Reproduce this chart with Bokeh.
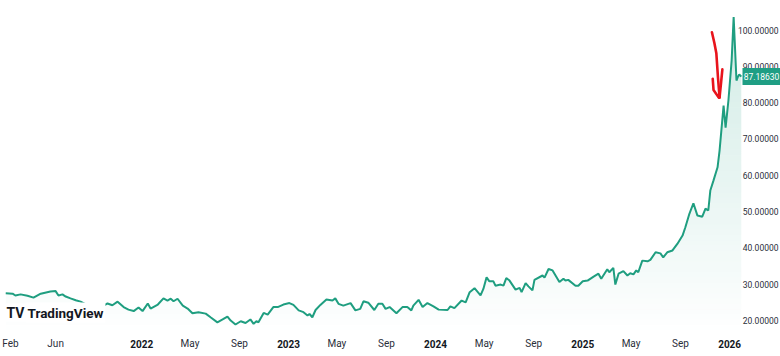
import numpy as np
import pandas as pd
from bokeh.plotting import figure
from bokeh.models import Range1d, Label
from bokeh.core.properties import value
from bokeh.embed import file_html
from bokeh.resources import INLINE

# ---------------- data ----------------
DATES = [
    "2021-01-28", "2021-02-14", "2021-02-21", "2021-03-06", "2021-03-23", "2021-04-07", "2021-04-25",
    "2021-05-19", "2021-06-01", "2021-06-08", "2021-06-18", "2021-06-26", "2021-07-08", "2021-07-21",
    "2021-08-02", "2021-08-14", "2021-08-27", "2021-09-08", "2021-09-21", "2021-10-08", "2021-10-20",
    "2021-11-02", "2021-11-17", "2021-11-29", "2021-12-12", "2021-12-24",
    "2022-01-03", "2022-01-16", "2022-01-23", "2022-02-10", "2022-02-24", "2022-03-06", "2022-03-14",
    "2022-03-21", "2022-03-31", "2022-04-13", "2022-04-25", "2022-05-07", "2022-05-22", "2022-06-09",
    "2022-06-21", "2022-07-08", "2022-07-21", "2022-08-02", "2022-08-10", "2022-08-22", "2022-09-04",
    "2022-09-16", "2022-09-28", "2022-10-06", "2022-10-13", "2022-10-18", "2022-10-31", "2022-11-10",
    "2022-11-24", "2022-12-05", "2022-12-19",
    "2023-01-03", "2023-01-13", "2023-01-26", "2023-02-07", "2023-02-17", "2023-02-22", "2023-03-01",
    "2023-03-09", "2023-03-21", "2023-04-05", "2023-04-20", "2023-04-27", "2023-05-05", "2023-05-17",
    "2023-06-04", "2023-06-16", "2023-06-28", "2023-07-06", "2023-07-18", "2023-08-02", "2023-08-12",
    "2023-08-22", "2023-08-30", "2023-09-09", "2023-09-26", "2023-10-11", "2023-10-23", "2023-11-02",
    "2023-11-07", "2023-11-20", "2023-11-30", "2023-12-12", "2023-12-27",
    "2024-01-09", "2024-01-31", "2024-02-07", "2024-02-17", "2024-03-06", "2024-03-16", "2024-03-26",
    "2024-04-07", "2024-04-22", "2024-04-29", "2024-05-07", "2024-05-14", "2024-05-24", "2024-05-29",
    "2024-06-11", "2024-06-18", "2024-06-25", "2024-07-03", "2024-07-18", "2024-07-28", "2024-08-02",
    "2024-08-12", "2024-08-19", "2024-08-29", "2024-09-03", "2024-09-23", "2024-09-28", "2024-10-08",
    "2024-10-18", "2024-11-04", "2024-11-14", "2024-11-19", "2024-11-26", "2024-12-14", "2024-12-21",
    "2025-01-01", "2025-01-13", "2025-01-28", "2025-02-09", "2025-02-16", "2025-03-03", "2025-03-08",
    "2025-03-18", "2025-03-23", "2025-03-31", "2025-04-12", "2025-04-22", "2025-04-29", "2025-05-07",
    "2025-05-14", "2025-05-19", "2025-05-29", "2025-06-11", "2025-06-18", "2025-07-01", "2025-07-13",
    "2025-07-20", "2025-07-30", "2025-08-12", "2025-08-24", "2025-09-06", "2025-09-13", "2025-09-23",
    "2025-10-03", "2025-10-13", "2025-10-25", "2025-11-02", "2025-11-09", "2025-11-14", "2025-11-22",
    "2025-12-02", "2025-12-07", "2025-12-17", "2025-12-22", "2025-12-29",
    "2026-01-06", "2026-01-11", "2026-01-18", "2026-01-21", "2026-01-25", "2026-01-30",
]
PRICES = [
    27.5, 27.4, 26.9, 27.2, 26.8, 26.3, 27.4,
    28.0, 28.1, 26.9, 27.2, 26.6, 26.1, 25.6,
    25.2, 24.5, 23.8, 23.0, 23.6, 24.7, 24.2,
    25.2, 23.7, 23.0, 22.6, 23.6,
    22.6, 24.7, 23.3, 24.4, 26.1, 25.5, 26.0,
    25.3, 26.0, 24.1, 23.3, 22.0, 22.3, 21.9,
    20.9, 19.5, 20.3, 21.1, 20.0, 18.9, 19.8,
    19.3, 20.3, 19.1, 19.8, 19.5, 22.1, 21.6,
    23.7, 23.7, 24.4,
    24.8, 24.3, 22.8, 22.3, 21.4, 21.8, 20.9,
    22.9, 24.3, 25.8, 25.5, 26.1, 24.6, 24.1,
    24.8, 22.8, 23.2, 25.3, 24.9, 22.9, 24.6,
    24.6, 23.2, 23.7, 22.0, 23.7, 23.7, 22.8,
    24.1, 25.7, 23.7, 24.8, 23.9,
    23.0, 22.9, 23.9, 23.4, 25.5, 25.0, 27.8,
    28.9, 26.9, 28.7, 31.9, 30.8, 30.8, 29.6,
    29.9, 29.6, 31.7, 31.0, 28.5, 29.0, 27.8,
    30.3, 29.4, 28.3, 31.2, 32.4, 31.8, 34.2,
    33.8, 30.6, 31.5, 31.0, 31.2, 29.6, 29.6,
    30.8, 31.0, 32.1, 32.9, 31.5, 34.1, 33.3,
    34.5, 29.9, 32.9, 33.6, 32.4, 33.0, 32.7,
    33.8, 33.3, 36.5, 36.3, 36.7, 38.8, 38.5,
    37.4, 38.8, 39.3, 41.1, 43.4, 45.7, 49.4,
    52.3, 48.9, 48.6, 50.8, 50.3, 55.8, 58.6,
    62.2, 66.8, 79.2, 73.1, 80.6,
    91.6, 103.6, 86.1, 87.0, 87.8, 87.18630,
]
LAST_PRICE_TEXT = "87.18630"

X_TICK_DATES = ["2021-02-01", "2021-06-01", "2022-01-01", "2022-05-01", "2022-09-01",
                "2023-01-01", "2023-05-01", "2023-09-01", "2024-01-01", "2024-05-01",
                "2024-09-01", "2025-01-01", "2025-05-01", "2025-09-01", "2026-01-01"]
X_TICK_LABELS = ["Feb", "Jun", "2022", "May", "Sep", "2023", "May", "Sep", "2024",
                 "May", "Sep", "2025", "May", "Sep", "2026"]
Y_TICKS = [20, 30, 40, 50, 60, 70, 80, 90, 100]

# hand-drawn red arrow (annotation on the picture)
ARROW_SHAFT_DATES = ["2025-11-18", "2025-11-24", "2025-11-29", "2025-12-03", "2025-12-07"]
ARROW_SHAFT_VALUES = [99.4, 96.5, 93.6, 87.0, 81.4]
ARROW_LEFT_DATES = ["2025-11-20", "2025-11-22", "2025-12-05"]
ARROW_LEFT_VALUES = [86.6, 83.5, 81.4]
ARROW_RIGHT_DATES = ["2025-12-14", "2025-12-11", "2025-12-07"]
ARROW_RIGHT_VALUES = [89.2, 85.8, 81.5]

# visible time / price window of the chart pane
X_START, X_END = "2021-01-15", "2026-02-02"
Y_START, Y_END = 17.25, 108.15

# ---------------- layout & styles ----------------
W, H = 780, 356
PANE_W, PANE_H = 742, 330          # chart pane; price scale on the right, time scale below
LINE = "#1f9e80"
TAG = "#1f9e84"
AXIS_TEXT = "#2a2e39"
FONT = "Roboto"

x0, x1 = pd.Timestamp(X_START), pd.Timestamp(X_END)


def xpx(px):
    return x0 + (x1 - x0) * (px / PANE_W)


def to_px(ts):
    return (ts - x0) / (x1 - x0) * PANE_W


def ypx(py):
    return Y_END - (Y_END - Y_START) * (py / PANE_H)


dates = pd.to_datetime(DATES)

p = figure(width=W, height=H, x_axis_location=None, y_axis_location=None,
           x_range=Range1d(xpx(0), xpx(W)), y_range=Range1d(ypx(H), ypx(0)),
           toolbar_location=None, output_backend="svg",
           min_border=0, min_border_left=0, min_border_right=0, min_border_top=0, min_border_bottom=0)
p.outline_line_color = None
p.background_fill_color = "white"
p.border_fill_color = "white"
p.grid.visible = False

# ---- gradient area fill (stacked horizontal bands) ----
t_ms = dates.astype("int64").to_numpy() / 1e6
fine_t = np.linspace(t_ms[0], t_ms[-1], 3000)
fine_v = np.interp(fine_t, t_ms, np.array(PRICES))
fine_dt = pd.to_datetime(fine_t, unit="ms")
edges = np.linspace(Y_START, max(PRICES), 60)
for lo, hi in zip(edges[:-1], edges[1:]):
    top = np.clip(fine_v, lo, hi)
    mid = 0.5 * (lo + hi)
    a = 0.21 * ((mid - Y_START) / (Y_END - Y_START)) ** 0.9
    p.varea(x=fine_dt, y1=lo, y2=top, fill_color=LINE, fill_alpha=float(a))

p.line(dates, PRICES, line_color=LINE, line_width=2)

# ---- red arrow ----
p.multi_line(xs=[pd.to_datetime(ARROW_SHAFT_DATES), pd.to_datetime(ARROW_LEFT_DATES),
                 pd.to_datetime(ARROW_RIGHT_DATES)],
             ys=[ARROW_SHAFT_VALUES, ARROW_LEFT_VALUES, ARROW_RIGHT_VALUES],
             line_color="#e8141c", line_width=2.6, line_cap="round", line_join="round")

# ---- time scale labels (months regular, years bold); keep the first one inside ----
tick_dt = pd.to_datetime(X_TICK_DATES)
label_x = [xpx(max(to_px(t), 10.0)) for t in tick_dt]
is_year = [l.isdigit() for l in X_TICK_LABELS]
label_y = ypx(PANE_H + 13)
for bold in (False, True):
    sel = [i for i, y in enumerate(is_year) if y == bold]
    p.text(x=[label_x[i] for i in sel], y=[label_y] * len(sel),
           text=[X_TICK_LABELS[i] for i in sel],
           text_align="center", text_baseline="middle", text_font=value(FONT),
           text_font_size="10px", text_font_style="bold" if bold else "normal",
           text_color="#131722" if bold else AXIS_TEXT)

# ---- price scale labels ----
p.text(x=[xpx(W - 2)] * len(Y_TICKS), y=Y_TICKS, text=[f"{v:.5f}" for v in Y_TICKS],
       text_align="right", text_baseline="middle", text_font=value(FONT),
       text_font_size="8.5px", text_color=AXIS_TEXT)

# ---- last price tag ----
half = (Y_END - Y_START) / PANE_H * 8.5
p.quad(left=xpx(PANE_W), right=xpx(W), bottom=PRICES[-1] - half, top=PRICES[-1] + half,
       fill_color=TAG, line_color=None)
p.text(x=[xpx((PANE_W + W) / 2)], y=[PRICES[-1]], text=[LAST_PRICE_TEXT],
       text_align="center", text_baseline="middle", text_font=value(FONT),
       text_font_size="8.5px", text_color="white")

# ---- TradingView watermark ----
p.add_layout(Label(x=xpx(5), y=ypx(312), text="TV", text_baseline="alphabetic",
                   text_font=FONT, text_font_size="14px", text_font_style="bold",
                   text_color="#131722", background_fill_color="white", padding=1))
p.add_layout(Label(x=xpx(25), y=ypx(312), text="TradingView", text_baseline="alphabetic",
                   text_font=FONT, text_font_size="13.5px", text_font_style="bold",
                   text_color="#131722", background_fill_color="white", padding=2))

open("out.html", "w").write(file_html(p, INLINE))
